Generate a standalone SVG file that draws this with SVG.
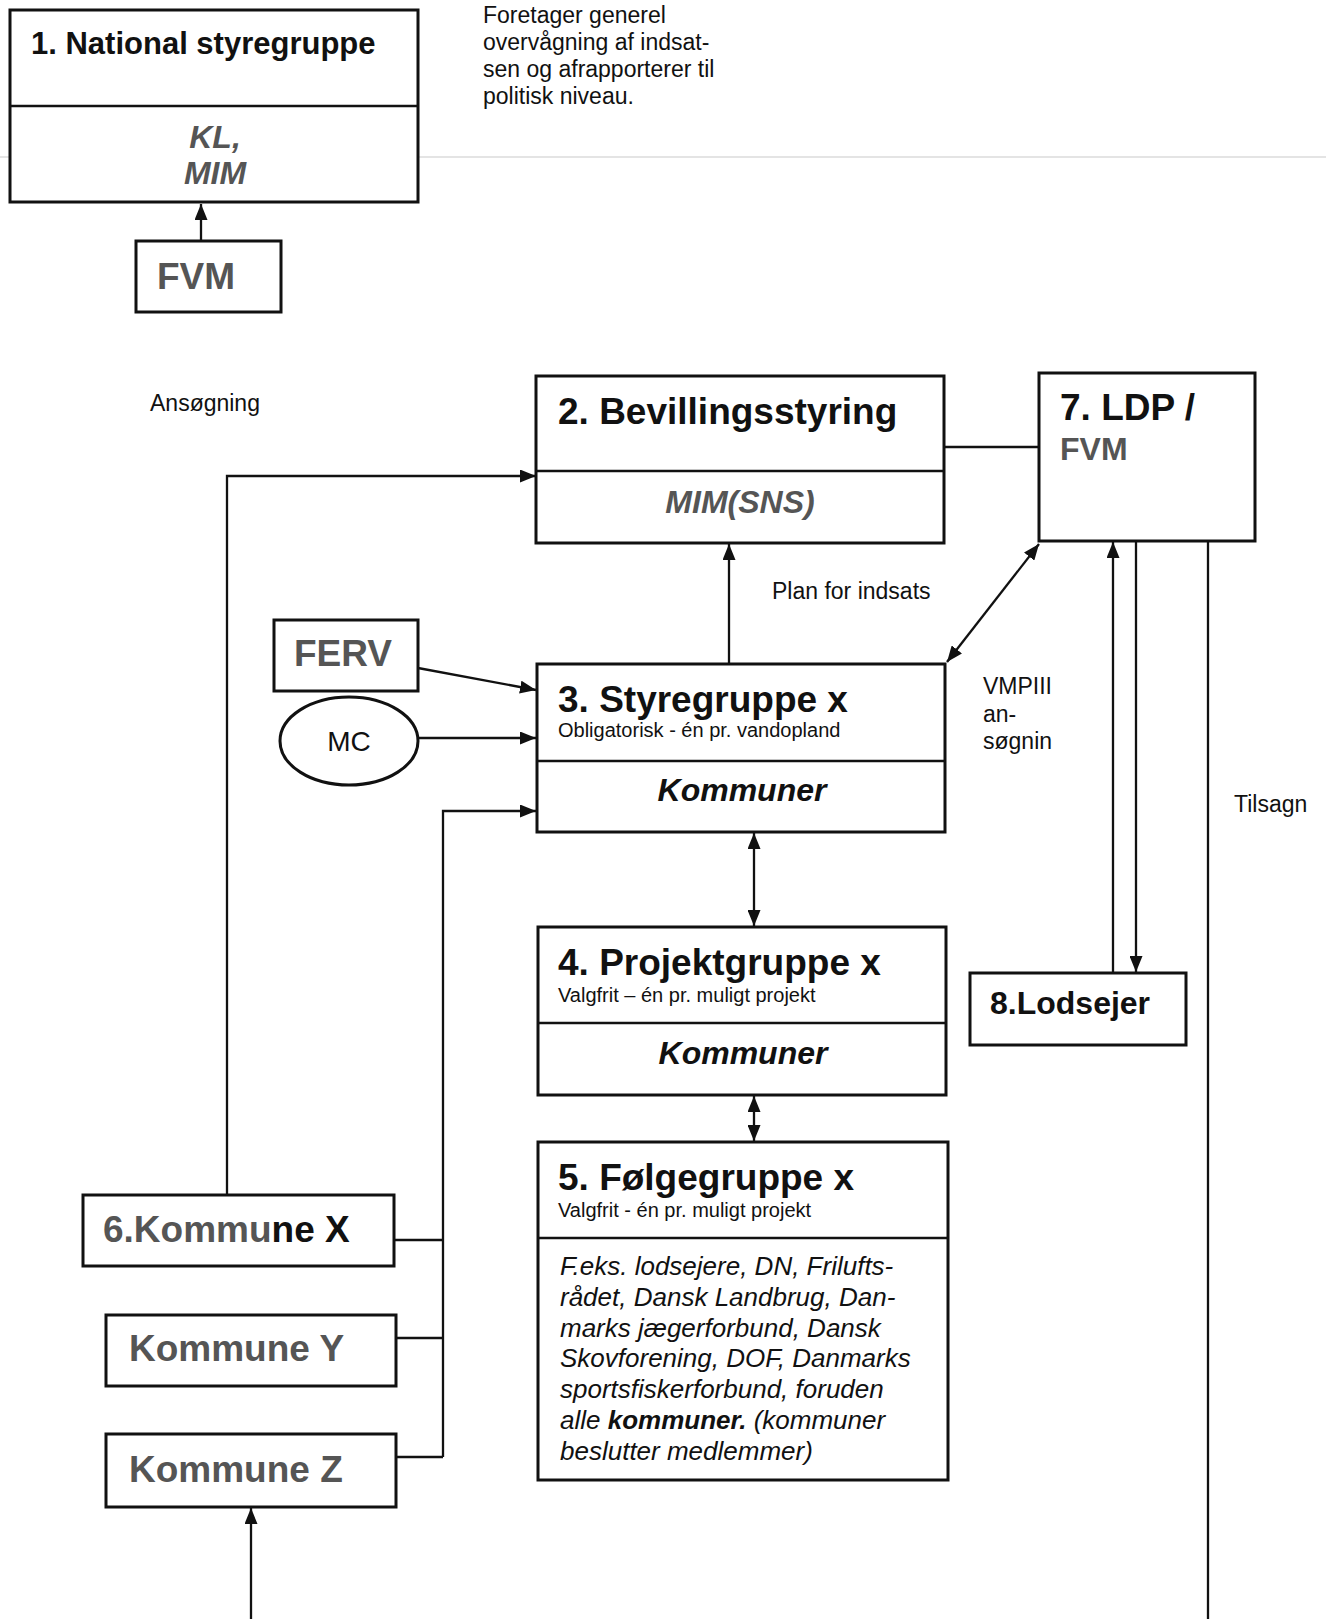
<svg xmlns="http://www.w3.org/2000/svg" width="1326" height="1619" viewBox="0 0 1326 1619">
<style>
text{font-family:"Liberation Sans",Arial,sans-serif;fill:#111}
.box{fill:#fff;stroke:#111;stroke-width:3}
.div{stroke:#111;stroke-width:2.5}
.t{font-weight:bold;font-size:37px}
.g{fill:#555}
.sub{font-size:20px}
.it{font-style:italic;font-weight:bold;font-size:32px}
.lbl{font-size:23px}
.body{font-style:italic;font-size:26px}
.c{fill:none;stroke:#111;stroke-width:2.3}
</style>
<defs>
<marker id="ah" viewBox="0 0 16 13" refX="16" refY="6.5" markerWidth="16" markerHeight="13" orient="auto-start-reverse" markerUnits="userSpaceOnUse"><path d="M0,0 L16,6.5 L0,13 z" fill="#111"/></marker>
</defs>
<rect width="1326" height="1619" fill="#fff"/>
<line x1="0" y1="157" x2="1326" y2="157" stroke="#e4e4e4" stroke-width="2"/>

<g id="connectors">
<line class="c" x1="201" y1="241" x2="201" y2="204" marker-end="url(#ah)"/>
<path class="c" d="M227,1195 V476 H536" marker-end="url(#ah)"/>
<line class="c" x1="944" y1="447" x2="1039" y2="447"/>
<line class="c" x1="729" y1="664" x2="729" y2="544" marker-end="url(#ah)"/>
<line class="c" x1="1039" y1="544" x2="947" y2="662" marker-start="url(#ah)" marker-end="url(#ah)"/>
<line class="c" x1="418" y1="668" x2="536" y2="690" marker-end="url(#ah)"/>
<line class="c" x1="418" y1="738" x2="536" y2="738" marker-end="url(#ah)"/>
<path class="c" d="M394,1240 H443 M396,1338 H443 M396,1457 H443"/>
<path class="c" d="M443,1457 V811 H536" marker-end="url(#ah)"/>
<line class="c" x1="754" y1="833" x2="754" y2="926" marker-start="url(#ah)" marker-end="url(#ah)"/>
<line class="c" x1="754" y1="1096" x2="754" y2="1141" marker-start="url(#ah)" marker-end="url(#ah)"/>
<line class="c" x1="1113" y1="973" x2="1113" y2="542" marker-end="url(#ah)"/>
<line class="c" x1="1136" y1="542" x2="1136" y2="972" marker-end="url(#ah)"/>
<line class="c" x1="1208" y1="541" x2="1208" y2="1619"/>
<line class="c" x1="251" y1="1619" x2="251" y2="1508" marker-end="url(#ah)"/>
</g>

<g id="n1">
<rect class="box" x="10" y="10" width="408" height="192"/>
<line class="div" x1="10" y1="106" x2="418" y2="106"/>
<text class="t" x="31" y="54" style="font-size:31px">1. National styregruppe</text>
<text class="it g" x="215" y="148" text-anchor="middle">KL,</text>
<text class="it g" x="215" y="184" text-anchor="middle">MIM</text>
</g>

<g id="note">
<text class="lbl" x="483" y="23">Foretager generel</text>
<text class="lbl" x="483" y="50">overvågning af indsat-</text>
<text class="lbl" x="483" y="77">sen og afrapporterer til</text>
<text class="lbl" x="483" y="104">politisk niveau.</text>
</g>

<g id="fvm">
<rect class="box" x="136" y="241" width="145" height="71"/>
<text class="t g" x="157" y="289">FVM</text>
</g>

<text class="lbl" x="150" y="411">Ansøgning</text>

<g id="n2">
<rect class="box" x="536" y="376" width="408" height="167"/>
<line class="div" x1="536" y1="471" x2="944" y2="471"/>
<text class="t" x="558" y="424">2. Bevillingsstyring</text>
<text class="it g" x="740" y="513" text-anchor="middle">MIM(SNS)</text>
</g>

<g id="n7">
<rect class="box" x="1039" y="373" width="216" height="168"/>
<text class="t" x="1060" y="420">7. LDP /</text>
<text class="t g" x="1060" y="460" style="font-size:32px">FVM</text>
</g>

<text class="lbl" x="772" y="599">Plan for indsats</text>

<g id="ferv">
<rect class="box" x="274" y="620" width="144" height="71"/>
<text class="t g" x="294" y="666">FERV</text>
</g>

<g id="mc">
<ellipse class="box" cx="349" cy="741" rx="69" ry="44"/>
<text x="349" y="751" text-anchor="middle" style="font-size:28px">MC</text>
</g>

<g id="n3">
<rect class="box" x="537" y="664" width="408" height="168"/>
<line class="div" x1="537" y1="761" x2="945" y2="761"/>
<text class="t" x="558" y="712">3. Styregruppe x</text>
<text class="sub" x="558" y="737">Obligatorisk - én pr. vandopland</text>
<text class="it" x="742" y="801" text-anchor="middle">Kommuner</text>
</g>

<g id="vmp">
<text class="lbl" x="983" y="694">VMPIII</text>
<text class="lbl" x="983" y="722">an-</text>
<text class="lbl" x="983" y="749">søgnin</text>
</g>

<text class="lbl" x="1234" y="812">Tilsagn</text>

<g id="n4">
<rect class="box" x="538" y="927" width="408" height="168"/>
<line class="div" x1="538" y1="1023" x2="946" y2="1023"/>
<text class="t" x="558" y="975">4. Projektgruppe x</text>
<text class="sub" x="558" y="1002">Valgfrit – én pr. muligt projekt</text>
<text class="it" x="743" y="1064" text-anchor="middle">Kommuner</text>
</g>

<g id="n8">
<rect class="box" x="970" y="973" width="216" height="72"/>
<text class="t" x="990" y="1014" style="font-size:32px">8.Lodsejer</text>
</g>

<g id="n5">
<rect class="box" x="538" y="1142" width="410" height="338"/>
<line class="div" x1="538" y1="1238" x2="948" y2="1238"/>
<text class="t" x="558" y="1190">5. Følgegruppe x</text>
<text class="sub" x="558" y="1217">Valgfrit - én pr. muligt projekt</text>
<text class="body" x="560" y="1275">F.eks. lodsejere, DN, Frilufts-</text>
<text class="body" x="560" y="1306">rådet, Dansk Landbrug, Dan-</text>
<text class="body" x="560" y="1337">marks jægerforbund, Dansk</text>
<text class="body" x="560" y="1367">Skovforening, DOF, Danmarks</text>
<text class="body" x="560" y="1398">sportsfiskerforbund, foruden</text>
<text class="body" x="560" y="1429">alle <tspan font-weight="bold">kommuner.</tspan> (kommuner</text>
<text class="body" x="560" y="1460">beslutter medlemmer)</text>
</g>

<g id="n6">
<rect class="box" x="83" y="1195" width="311" height="71"/>
<text class="t" x="103" y="1242"><tspan class="g">6.Kommu</tspan>ne X</text>
</g>

<g id="ky">
<rect class="box" x="106" y="1315" width="290" height="71"/>
<text class="t g" x="129" y="1361">Kommune Y</text>
</g>

<g id="kz">
<rect class="box" x="106" y="1434" width="290" height="73"/>
<text class="t g" x="129" y="1482">Kommune Z</text>
</g>
</svg>
